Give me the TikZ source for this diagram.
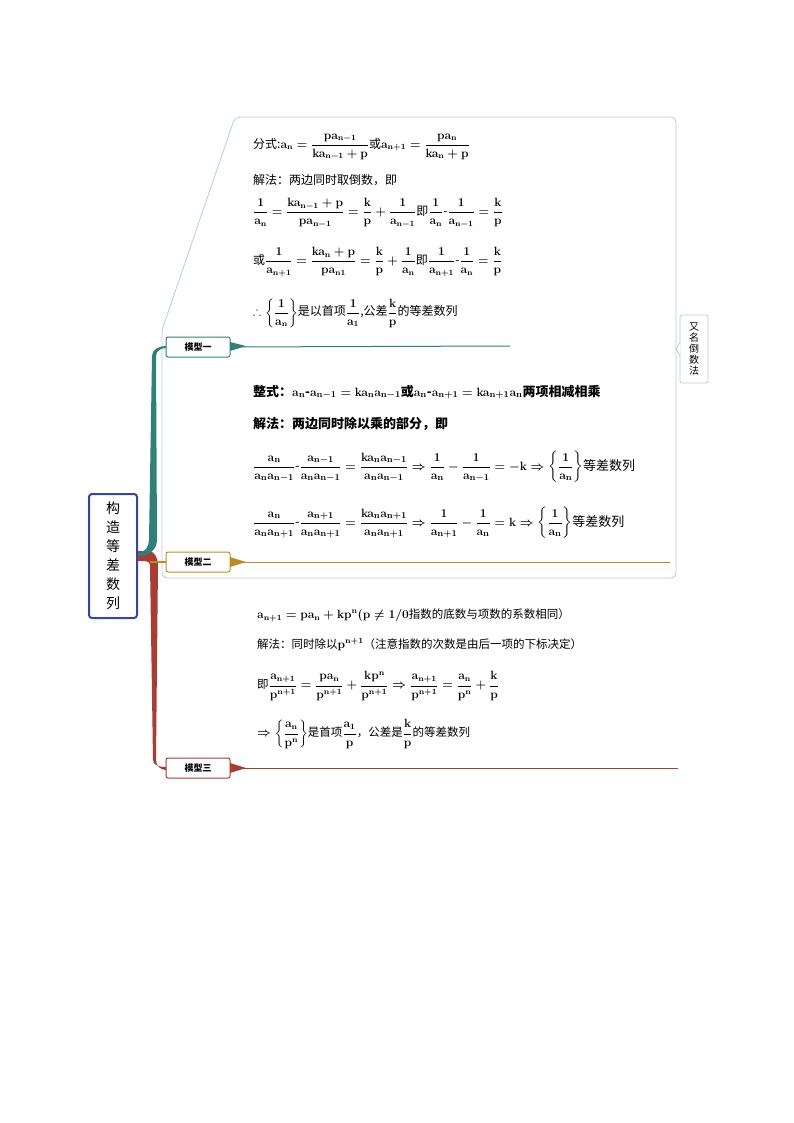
\documentclass[tikz,border=0pt]{standalone}
\usepackage{amsmath,amssymb}
\usepackage[no-math]{fontspec}
\newfontfamily\cjk{Noto Sans CJK SC}
\usetikzlibrary{calc}
\definecolor{teal1}{RGB}{47,128,120}
\definecolor{gold1}{RGB}{190,140,30}
\definecolor{red1}{RGB}{170,60,50}
\definecolor{blue1}{RGB}{50,70,170}
\definecolor{call}{RGB}{190,200,225}
\tikzset{
 model/.style={draw=#1,line width=1pt,rounded corners=2pt,minimum width=64pt,minimum height=20pt,inner sep=0pt,font=\cjk\fontsize{9}{10}\selectfont\bfseries,fill=white},
 txt/.style={anchor=west,inner sep=0pt,font=\cjk\fontsize{12}{14}\selectfont},
}
\newcommand{\mth}[1]{{\boldmath$\displaystyle\mathbf{#1}$}}
\begin{document}
\begin{tikzpicture}[x=1pt,y=-1pt]
\useasboundingbox (0,0) rectangle (794,1123);
% callout
\draw[call,line width=0.8pt,fill=white,rounded corners=5pt] (235,117) -- (676,117) -- (676,578) -- (162,578) -- (162,330) -- cycle;
% right tag
\node[draw=call,line width=0.8pt,fill=white,rounded corners=2pt,minimum width=28pt,minimum height=68pt,inner sep=1pt,align=center,font=\cjk\fontsize{10}{11}\selectfont] (tag) at (694,349) {又\\名\\倒\\数\\法};
\fill[white] (680.4,342) -- (676,349) -- (680.4,356) -- cycle;
\draw[call,line width=0.8pt] (680.4,342) -- (676,349) -- (680.4,356);
% root
\node[draw=blue1,line width=2pt,rounded corners=3pt,minimum width=48pt,minimum height=124pt,align=center,font=\cjk\fontsize{14}{19}\selectfont] (root) at (113,556) {构\\造\\等\\差\\数\\列};
% models
\node[model=teal1] (m1) at (198,347) {模型一};
\node[model=gold1] (m2) at (198,562) {模型二};
\node[model=red1] (m3) at (198,768) {模型三};
% branches
\fill[red1] (root.east|-0,551) -- (148,551) to[out=0,in=90] (158,565) -- (156,760) to[out=270,in=180] (166,770) -- (166,767) to[out=180,in=270] (153,760) -- (150,565) to[out=90,in=0] (140,561) -- (root.east|-0,561) -- cycle;
\draw[gold1,line width=1.5pt] (150,562) -- (m2.west);
\fill[teal1] (root.east|-0,553) to[out=0,in=270] (149,540) -- (152,356) to[out=90,in=180] (166,346) -- (166,348) to[out=180,in=90] (156,356) -- (157,540) to[out=270,in=0] (140,556) -- (root.east|-0,556) -- cycle;
\draw[teal1,line width=1pt] (m1.east) -- (510,346);
\fill[teal1] (230,342) -- (246,346) -- (230,351) -- cycle;
\draw[gold1,line width=1pt] (m2.east) -- (670,562);
\fill[gold1] (230,557) -- (246,562) -- (230,567) -- cycle;
\draw[red1,line width=1pt] (m3.east) -- (678,768);
\fill[red1] (230,763) -- (246,768) -- (230,773) -- cycle;
% model 1 text
\node[txt] (a1) at (253,147) {分式:\mth{a_n=\frac{pa_{n-1}}{ka_{n-1}+p}}或\mth{a_{n+1}=\frac{pa_n}{ka_n+p}}};
\node[txt] (a2) at (253,180) {解法：两边同时取倒数，即};
\node[txt] (a3) at (253,213) {\mth{\frac{1}{a_n}=\frac{ka_{n-1}+p}{pa_{n-1}}=\frac{k}{p}+\frac{1}{a_{n-1}}}即\mth{\frac{1}{a_n}\text{-}\frac{1}{a_{n-1}}=\frac{k}{p}}};
\node[txt] (a4) at (253,262) {或\mth{\frac{1}{a_{n+1}}=\frac{ka_n+p}{pa_{n1}}=\frac{k}{p}+\frac{1}{a_n}}即\mth{\frac{1}{a_{n+1}}\text{-}\frac{1}{a_n}=\frac{k}{p}}};
\node[txt] (a5) at (253,313) {\mth{\therefore\left\{\frac{1}{a_n}\right\}}是以首项\mth{\frac{1}{a_1}},公差\mth{\frac{k}{p}}的等差数列};
% model 2 text
\node[txt,font=\cjk\fontsize{13}{15}\selectfont\bfseries] (b1) at (253,392) {整式：\mth{a_n\text{-}a_{n-1}=ka_na_{n-1}}或\mth{a_n\text{-}a_{n+1}=ka_{n+1}a_n}两项相减相乘};
\node[txt,font=\cjk\fontsize{13}{15}\selectfont\bfseries] (b2) at (253,424) {解法：两边同时除以乘的部分，即};
\node[txt,font=\cjk\fontsize{13}{15}\selectfont] (b3) at (253,467) {\mth{\frac{a_n}{a_na_{n-1}}\text{-}\frac{a_{n-1}}{a_na_{n-1}}=\frac{ka_na_{n-1}}{a_na_{n-1}}\Rightarrow\frac{1}{a_n}-\frac{1}{a_{n-1}}=-k\Rightarrow\left\{\frac{1}{a_n}\right\}}等差数列};
\node[txt,font=\cjk\fontsize{13}{15}\selectfont] (b4) at (253,523) {\mth{\frac{a_n}{a_na_{n+1}}\text{-}\frac{a_{n+1}}{a_na_{n+1}}=\frac{ka_na_{n+1}}{a_na_{n+1}}\Rightarrow\frac{1}{a_{n+1}}-\frac{1}{a_n}=k\Rightarrow\left\{\frac{1}{a_n}\right\}}等差数列};
% model 3 text
\node[txt,font=\cjk\fontsize{11.5}{13}\selectfont] (c1) at (257,615) {\mth{a_{n+1}=pa_n+kp^n(p\neq1/0}指数的底数与项数的系数相同）};
\node[txt,font=\cjk\fontsize{11.5}{13}\selectfont] (c2) at (257,645) {解法：同时除以\mth{p^{n+1}}（注意指数的次数是由后一项的下标决定）};
\node[txt,font=\cjk\fontsize{11.5}{13}\selectfont] (c3) at (257,686) {即\mth{\frac{a_{n+1}}{p^{n+1}}=\frac{pa_n}{p^{n+1}}+\frac{kp^n}{p^{n+1}}\Rightarrow\frac{a_{n+1}}{p^{n+1}}=\frac{a_n}{p^n}+\frac{k}{p}}};
\node[txt,font=\cjk\fontsize{11.5}{13}\selectfont] (c4) at (257,734) {\mth{\Rightarrow\left\{\frac{a_n}{p^n}\right\}}是首项\mth{\frac{a_1}{p}}，公差是\mth{\frac{k}{p}}的等差数列};
\end{tikzpicture}
\end{document}
